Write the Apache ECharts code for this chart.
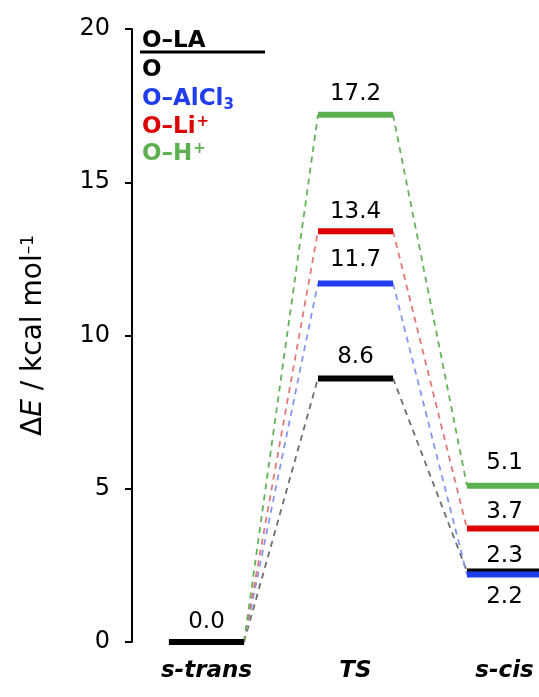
<!DOCTYPE html>
<html><head><meta charset="utf-8">
<script src="https://cdn.jsdelivr.net/npm/echarts@6/dist/echarts.min.js"></script>
<style>html,body{margin:0;padding:0;background:#fff}#c{width:539px;height:697px}</style>
</head><body><div id="c"></div>
<script>
// ---- data ----
const categories = ['s-trans', 'TS', 's-cis'];
const groupNames = ['O', 'O–AlCl3', 'O–Li+', 'O–H+'];
const valuesO = [0.0, 8.6, 2.3];
const valuesAlCl3 = [0.0, 11.7, 2.2];
const valuesLi = [0.0, 13.4, 3.7];
const valuesH = [0.0, 17.2, 5.1];
const yTicks = [0, 5, 10, 15, 20];
const legendHeader = 'O–LA';

// ---- styles ----
const FONT = "'DejaVu Sans', 'Liberation Sans', Arial, sans-serif";
const levelColors = ['#000000', '#1f3cf0', '#dc0000', '#5cb04f'];
const dashColors = ['#6e6e6e', '#8596f2', '#e47878', '#62b257'];
const zOrder = [3, 4, 2, 1];
// label vertical offsets (px) per group-category
const labelDy = {'0-0': -20, '0-1': -21, '0-2': -15, '1-1': -23, '1-2': 22, '2-1': -19, '2-2': -17, '3-1': -21, '3-2': -23};
const legendParts = [
  {main: 'O'}, {main: 'O–AlCl', sub: '3'}, {main: 'O–Li', sup: '+'}, {main: 'O–H', sup: '+'}
];

const groups = [valuesO, valuesAlCl3, valuesLi, valuesH];
const levelData = [];
const connData = [];
groups.forEach((vals, g) => {
  vals.forEach((v, i) => {
    levelData.push([i, v, g]);
    if (i < vals.length - 1) connData.push([i, v, vals[i + 1], g]);
  });
});

function levelItem(params, api) {
  const i = api.value(0), v = api.value(1), g = api.value(2);
  const c = api.coord([i, v]);
  const half = api.size([1, 0])[0] * 0.252;
  const children = [{
    type: 'line',
    z2: i === 0 && g === 0 ? 10 : zOrder[g],
    shape: {x1: c[0] - half, y1: c[1], x2: c[0] + half, y2: c[1]},
    style: {stroke: levelColors[g], lineWidth: 6, lineCap: 'butt'}
  }];
  if (i > 0 || g === 0) {
    children.push({
      type: 'text', z2: 20,
      x: c[0], y: c[1] + (labelDy[g + '-' + i] || -20),
      style: {text: v.toFixed(1), fill: '#000', fontSize: 23, fontFamily: FONT, align: 'center', verticalAlign: 'middle'}
    });
  }
  return {type: 'group', children};
}

function connItem(params, api) {
  const i = api.value(0), v1 = api.value(1), v2 = api.value(2), g = api.value(3);
  const half = api.size([1, 0])[0] * 0.252;
  const a = api.coord([i, v1]);
  const b = api.coord([i + 1, v2]);
  return {
    type: 'line',
    shape: {x1: a[0] + half, y1: a[1], x2: b[0] - half, y2: b[1]},
    style: {stroke: dashColors[g], lineWidth: 1.8, lineDash: [6, 5]}
  };
}

// legend as graphic text
const ctx = document.createElement('canvas').getContext('2d');
const LX = 142, LFS = 23;
function textW(t, size) { ctx.font = 'bold ' + size + 'px ' + FONT; return ctx.measureText(t).width; }
const graphics = [
  {type: 'text', x: LX, y: 41, style: {text: legendHeader, fill: '#000', font: 'bold ' + LFS + 'px ' + FONT, verticalAlign: 'middle'}},
  {type: 'line', shape: {x1: 140, y1: 52, x2: 265, y2: 52}, style: {stroke: '#000', lineWidth: 3}}
];
const legendY = [70, 99, 127, 154];
legendParts.forEach((p, g) => {
  const y = legendY[g];
  graphics.push({type: 'text', x: LX, y, style: {text: p.main, fill: levelColors[g], font: 'bold ' + LFS + 'px ' + FONT, verticalAlign: 'middle'}});
  const w = textW(p.main, LFS);
  if (p.sub) graphics.push({type: 'text', x: LX + w, y: y + 6, style: {text: p.sub, fill: levelColors[g], font: 'bold 15px ' + FONT, verticalAlign: 'middle'}});
  if (p.sup) graphics.push({type: 'text', x: LX + w + 1, y: y - 5, style: {text: p.sup, fill: levelColors[g], font: 'bold 15px ' + FONT, verticalAlign: 'middle'}});
});

const chart = echarts.init(document.getElementById('c'));
chart.setOption({
  animation: false,
  backgroundColor: '#fff',
  grid: {left: 132, top: 29, right: -40, bottom: 55, containLabel: false, outerBoundsMode: 'none'},
  xAxis: {
    type: 'category', data: categories, boundaryGap: true,
    axisLine: {show: false}, axisTick: {show: false},
    axisLabel: {color: '#000', fontSize: 23, fontWeight: 'bold', fontStyle: 'italic', fontFamily: FONT, margin: 18, interval: 0}
  },
  yAxis: {
    type: 'value', min: yTicks[0], max: yTicks[yTicks.length - 1], interval: yTicks[1] - yTicks[0],
    splitLine: {show: false},
    axisLine: {show: true, lineStyle: {color: '#000', width: 2}},
    axisTick: {show: true, length: 7, lineStyle: {color: '#000', width: 2}},
    axisLabel: {color: '#000', fontSize: 24, fontFamily: FONT, margin: 22},
    name: '{n|Δ}{i|E}{n| / kcal mol}{s|–1}',
    nameLocation: 'middle', nameGap: 84, nameRotate: 90,
    nameTextStyle: {
      rich: {
        n: {fontSize: 28, fontFamily: FONT, color: '#000'},
        i: {fontSize: 28, fontFamily: FONT, fontStyle: 'italic', color: '#000'},
        s: {fontSize: 17, fontFamily: FONT, color: '#000', verticalAlign: 'top'}
      }
    }
  },
  graphic: graphics,
  series: [
    {type: 'custom', renderItem: connItem, data: connData, z: 2, silent: true},
    {type: 'custom', renderItem: levelItem, data: levelData, z: 3, silent: true}
  ]
});
</script></body></html>
